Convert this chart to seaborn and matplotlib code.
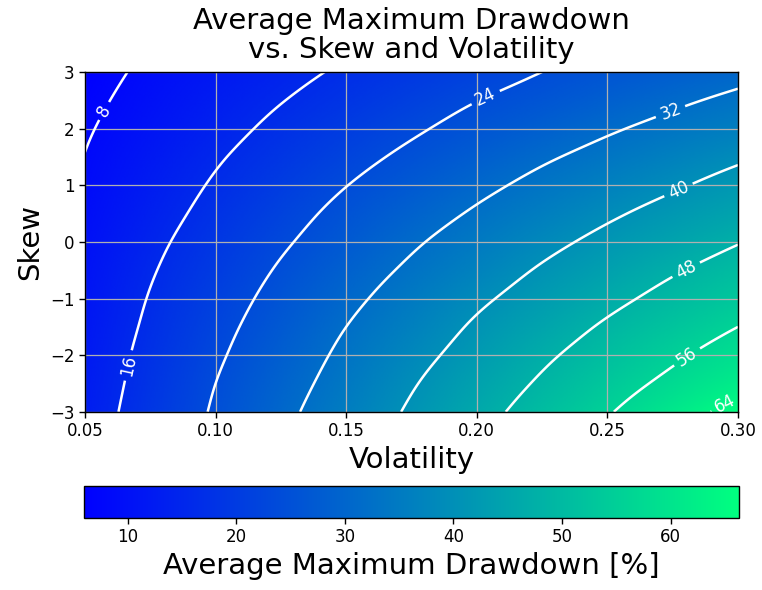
import numpy as np
import matplotlib
matplotlib.use("Agg")
import matplotlib.pyplot as plt
import seaborn as sns

# Grid of simulated results: volatility (columns) x skew (rows)
volatility = [0.05, 0.075, 0.10, 0.125, 0.15, 0.175, 0.20, 0.225, 0.25, 0.275, 0.30]
skew = [-3.0, -2.5, -2.0, -1.5, -1.0, -0.5, 0.0, 0.5, 1.0, 1.5, 2.0, 2.5, 3.0]

# Average maximum drawdown [%] for each skew row, across the volatility grid
dd_skew_m30 = [12.9, 18.9, 24.7, 30.4, 35.7, 40.8, 45.8, 50.7, 55.5, 60.8, 66.3]
dd_skew_m25 = [12.5, 18.3, 24.0, 29.4, 34.5, 39.5, 44.2, 48.8, 53.2, 57.6, 61.9]
dd_skew_m20 = [12.0, 17.7, 23.1, 28.3, 33.3, 38.0, 42.5, 46.9, 51.0, 55.0, 58.9]
dd_skew_m15 = [11.5, 17.0, 22.2, 27.1, 32.0, 36.4, 40.8, 44.8, 48.8, 52.4, 56.0]
dd_skew_m10 = [11.0, 16.3, 21.2, 25.9, 30.5, 34.8, 38.9, 42.7, 46.4, 49.9, 53.1]
dd_skew_m05 = [10.5, 15.5, 20.1, 24.6, 28.9, 33.0, 36.8, 40.6, 44.0, 47.4, 50.6]
dd_skew_00 = [9.9, 14.6, 19.0, 23.2, 27.2, 31.2, 34.8, 38.3, 41.6, 44.6, 47.7]
dd_skew_p05 = [9.3, 13.6, 17.8, 21.8, 25.6, 29.2, 32.7, 35.9, 39.1, 42.0, 44.7]
dd_skew_p10 = [8.7, 12.7, 16.6, 20.3, 23.9, 27.2, 30.5, 33.6, 36.5, 39.3, 42.1]
dd_skew_p15 = [8.1, 11.8, 15.4, 18.8, 22.1, 25.2, 28.2, 31.2, 33.9, 36.5, 39.1]
dd_skew_p20 = [7.5, 10.8, 14.1, 17.3, 20.3, 23.2, 26.0, 28.6, 31.3, 33.7, 36.0]
dd_skew_p25 = [6.8, 9.9, 12.9, 15.8, 18.5, 21.2, 23.9, 26.2, 28.6, 31.0, 33.2]
dd_skew_p30 = [6.0, 9.0, 11.6, 14.3, 16.8, 19.2, 21.6, 24.0, 26.1, 28.1, 30.2]

contour_levels = [8, 16, 24, 32, 40, 48, 56, 64]
vol_ticks = [0.05, 0.10, 0.15, 0.20, 0.25, 0.30]
skew_ticks = [-3, -2, -1, 0, 1, 2, 3]
cbar_ticks = [10, 20, 30, 40, 50, 60]

Z = np.array([dd_skew_m30, dd_skew_m25, dd_skew_m20, dd_skew_m15, dd_skew_m10,
              dd_skew_m05, dd_skew_00, dd_skew_p05, dd_skew_p10, dd_skew_p15,
              dd_skew_p20, dd_skew_p25, dd_skew_p30])


def natural_spline(x, y, xf):
    """Evaluate the natural cubic spline through (x, y) at xf."""
    x = np.asarray(x, float)
    y = np.asarray(y, float)
    n = len(x)
    h = np.diff(x)
    A = np.zeros((n, n))
    r = np.zeros(n)
    A[0, 0] = A[-1, -1] = 1.0
    for i in range(1, n - 1):
        A[i, i - 1] = h[i - 1]
        A[i, i] = 2.0 * (h[i - 1] + h[i])
        A[i, i + 1] = h[i]
        r[i] = 3.0 * ((y[i + 1] - y[i]) / h[i] - (y[i] - y[i - 1]) / h[i - 1])
    c = np.linalg.solve(A, r)
    b = (y[1:] - y[:-1]) / h - h * (2.0 * c[:-1] + c[1:]) / 3.0
    d = (c[1:] - c[:-1]) / (3.0 * h)
    k = np.clip(np.searchsorted(x, xf, side="right") - 1, 0, n - 2)
    t = xf - x[k]
    return y[k] + b[k] * t + c[k] * t ** 2 + d[k] * t ** 3


# Smooth surface on a fine mesh (spline along volatility, then along skew)
vol_f = np.linspace(volatility[0], volatility[-1], 500)
skew_f = np.linspace(skew[0], skew[-1], 400)
rows_f = np.array([natural_spline(volatility, row, vol_f) for row in Z])
Zf = np.array([natural_spline(skew, rows_f[:, j], skew_f)
               for j in range(len(vol_f))]).T

sns.set_theme(style="ticks", rc={
    "axes.edgecolor": "black",
    "axes.linewidth": 1.0,
    "xtick.color": "black",
    "ytick.color": "black",
    "text.color": "black",
    "axes.labelcolor": "black",
    "xtick.direction": "out",
    "ytick.direction": "out",
})
plt.rcParams["font.family"] = ["DejaVu Sans"]

cmap = sns.color_palette("winter", as_cmap=True)

fig = plt.figure(figsize=(7.62, 5.90), dpi=100)
ax = fig.add_axes([0.1115, 0.302, 0.857, 0.576])

img = ax.imshow(Zf, origin="lower", aspect="auto", cmap=cmap,
                extent=[volatility[0], volatility[-1], skew[0], skew[-1]],
                vmin=Z.min(), vmax=Z.max(), interpolation="bilinear", zorder=0)
cs = ax.contour(vol_f, skew_f, Zf, levels=contour_levels,
                colors="white", linewidths=1.8)
label_spots = [(0.057, 2.32), (0.0665, -2.18), (0.203, 2.59), (0.274, 2.32),
               (0.277, 0.94), (0.2797, -0.45), (0.2805, -2.03), (0.295, -2.85)]
ax.clabel(cs, fmt="%d", fontsize=12, colors="white", inline=True,
          manual=label_spots)

ax.set_xlim(volatility[0], volatility[-1])
ax.set_ylim(skew[0], skew[-1])
ax.set_xticks(vol_ticks)
ax.set_xticklabels([f"{v:.2f}" for v in vol_ticks])
ax.set_yticks(skew_ticks)
ax.tick_params(labelsize=12, length=4, width=1)
ax.set_axisbelow("line")
ax.grid(True, color="#b0b0b0", linewidth=0.9)
for s in ax.spines.values():
    s.set_visible(True)
    s.set_color("black")

ax.set_xlabel("Volatility", fontsize=21)
ax.set_ylabel("Skew", fontsize=21)
ax.set_title("Average Maximum Drawdown\nvs. Skew and Volatility", fontsize=21,
             linespacing=1.07, pad=10)

cax = fig.add_axes([0.1105, 0.122, 0.8595, 0.054])
cb = fig.colorbar(img, cax=cax, orientation="horizontal")
cb.set_ticks(cbar_ticks)
cb.ax.tick_params(labelsize=12, length=4, width=1)
cb.outline.set_edgecolor("black")
cb.outline.set_linewidth(1.0)
cb.set_label("Average Maximum Drawdown [%]", fontsize=21)

fig.savefig("out.png", dpi=100)
